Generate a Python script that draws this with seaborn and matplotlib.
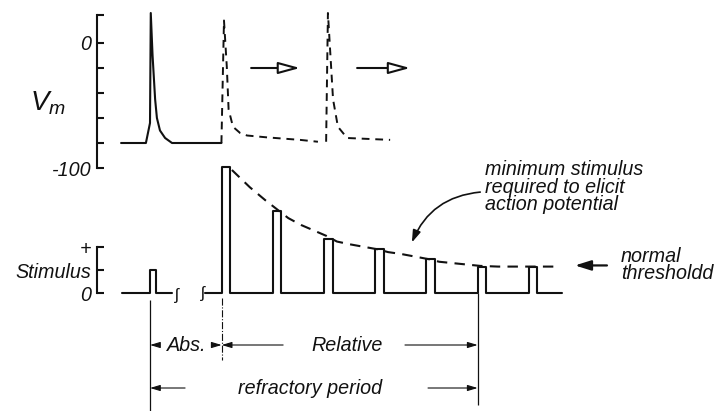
import numpy as np
import pandas as pd
import matplotlib
matplotlib.use("Agg")
import matplotlib.pyplot as plt
import seaborn as sns

# ---------------- data (time in ms, Vm in mV, stimulus in arbitrary units) ----------------
vm_ticks = [-100, -80, -60, -40, -20, 0, 22.4]
vm_ticklabels = ["-100", "", "", "", "", "0", ""]
stim_ticks = [0, 1, 2]
stim_ticklabels = ["0", "Stimulus", "+"]

# action potential after first (threshold) stimulus -- solid
spike1_t = [-1.13, -0.16, -0.06, 0.00, 0.03, 0.10, 0.20, 0.27, 0.39, 0.59, 0.86, 2.79]
spike1_v = [-80, -80, -70, -64, 24, -10, -45, -60, -70, -76, -80, -80]
# shifted action potentials -- dashed
spike2_t = [2.79, 2.89, 3.00, 3.07, 3.24, 3.52, 3.79, 4.57, 5.86, 6.56]
spike2_v = [-80, 18, -19, -53, -67, -72, -74, -75.5, -77.5, -79]
spike3_t = [6.88, 6.95, 7.15, 7.34, 7.70, 9.38]
spike3_v = [-79, 24, -45, -67, -76, -77.5]

# stimulus pulses
first_stim_t = [0.0]
first_stim_h = [1.0]
pulse_times = [2.8, 4.8, 6.8, 8.8, 10.8, 12.8, 14.8]
pulse_heights = [5.5, 3.57, 2.35, 1.9, 1.48, 1.15, 1.15]

# minimum stimulus required to elicit an action potential (dashed curve)
thr_t = [3.2, 3.9, 4.5, 5.4, 5.9, 6.9, 7.3, 7.8, 8.9, 9.3, 9.8, 10.9, 11.3, 12.9, 13.6, 16.0]
thr_s = [5.35, 4.6, 4.04, 3.26, 2.96, 2.48, 2.24, 2.12, 1.9, 1.78, 1.7, 1.47, 1.36, 1.18, 1.15, 1.15]

# ---------------- style ----------------
sns.set_theme(style="white")
plt.rcParams['font.family'] = ['Liberation Sans', 'DejaVu Sans']
plt.rcParams['font.style'] = 'italic'
plt.rcParams['mathtext.fontset'] = 'custom'
plt.rcParams['mathtext.it'] = 'Liberation Sans:italic'
plt.rcParams['mathtext.rm'] = 'Liberation Sans:italic'
FS = 14.2
INK = '#111111'

W, H = 721, 411
fig = plt.figure(figsize=(W / 100, H / 100), dpi=100)
fig.patch.set_facecolor('white')
px_per_ms = 25.6
t0_px = 150
spine_px = 97
xlim = ((spine_px - t0_px) / px_per_ms, (W - t0_px) / px_per_ms)


def ax_rect(top_px, bottom_px):
    return [spine_px / W, 1 - bottom_px / H, (W - spine_px) / W, (bottom_px - top_px) / H]


ax_v = fig.add_axes(ax_rect(5, 168))
ax_s = fig.add_axes(ax_rect(150, 411))
for ax in (ax_v, ax_s):
    ax.patch.set_alpha(0)
    for s in ('top', 'right', 'bottom'):
        ax.spines[s].set_visible(False)
    ax.spines['left'].set_linewidth(1.5)
    ax.spines['left'].set_color(INK)
    ax.set_xlim(*xlim)
    ax.set_xticks([])
    ax.set_xlabel('')
    ax.set_ylabel('')
    ax.tick_params(axis='y', direction='in', length=5, width=1.5, color=INK,
                   labelsize=FS, pad=4, labelcolor=INK, left=True)

# ---------------- membrane potential ----------------
ax_v.set_ylim(-100, 22.4 + 10 * 0.8)
ax_v.spines['left'].set_bounds(-100, 22.4)
ax_v.set_yticks(vm_ticks)
ax_v.set_yticklabels(vm_ticklabels)

sns.lineplot(x=spike1_t, y=spike1_v, sort=False, estimator=None, color=INK, lw=1.5, ax=ax_v)
sns.lineplot(x=spike2_t, y=spike2_v, sort=False, estimator=None, color=INK, lw=1.4,
             linestyle=(0, (4, 3)), ax=ax_v)
sns.lineplot(x=spike3_t, y=spike3_v, sort=False, estimator=None, color=INK, lw=1.4,
             linestyle=(0, (4, 3)), ax=ax_v)

open_head = dict(arrowstyle="-|>,head_length=1.1,head_width=0.3", fc='white', ec=INK, lw=1.5,
                 shrinkA=0, shrinkB=0)
ax_v.annotate("", xy=(5.86, -20), xytext=(3.95, -20), arrowprops=open_head)
ax_v.annotate("", xy=(10.16, -20), xytext=(8.09, -20), arrowprops=open_head)

fig.text(48 / W, 1 - 103 / H, "$V_m$", fontsize=20, ha='center', va='center', color=INK)

# ---------------- stimulus ----------------
ax_s.set_ylim(-5.13, 6.22)
ax_s.spines['left'].set_bounds(0, 2)
ax_s.set_yticks(stim_ticks)
ax_s.set_yticklabels(stim_ticklabels)


def pulse_train(start, end, times, heights, width):
    xs, ys = [start], [0]
    for t, h in zip(times, heights):
        xs += [t, t, t + width, t + width]
        ys += [0, h, h, 0]
    xs.append(end)
    ys.append(0)
    return xs, ys


x1, y1 = pulse_train(-1.1, 0.86, first_stim_t, first_stim_h, 0.25)
x2, y2 = pulse_train(2.15, 16.1, pulse_times, pulse_heights, 0.33)
sns.lineplot(x=x1, y=y1, sort=False, estimator=None, color=INK, lw=1.5, ax=ax_s)
sns.lineplot(x=x2, y=y2, sort=False, estimator=None, color=INK, lw=1.5, ax=ax_s)
sns.lineplot(x=thr_t, y=thr_s, sort=False, estimator=None, color=INK, lw=1.5,
             linestyle=(0, (5, 3.5)), ax=ax_s)

# axis-break squiggles
ax_s.text(1.05, -0.12, "ʃ", fontsize=12, ha='center', va='center', color=INK, style='normal')
ax_s.text(2.08, 0.0, "ʃ", fontsize=12, ha='center', va='center', color=INK, style='normal')

# annotations
ax_s.text(13.1, 4.6, "minimum stimulus\nrequired to elicit\naction potential", fontsize=FS,
          ha='left', va='center', linespacing=0.9, color=INK)
ax_s.annotate("", xy=(10.23, 2.2), xytext=(12.9, 4.39),
              arrowprops=dict(arrowstyle="-|>,head_length=0.6,head_width=0.2", color=INK, lw=1.2,
                              connectionstyle="arc3,rad=0.3", shrinkA=0, shrinkB=0))
ax_s.text(18.4, 1.22, "normal\nthresholdd", fontsize=FS, ha='left', va='center',
          linespacing=0.9, color=INK)
ax_s.annotate("", xy=(16.6, 1.2), xytext=(17.85, 1.2),
              arrowprops=dict(arrowstyle="-|>,head_length=0.8,head_width=0.25", color=INK, lw=1.6,
                              shrinkA=0, shrinkB=0))

# refractory period markers
abs_start = first_stim_t[0]
abs_end = pulse_times[0]
rel_end = pulse_times[5]
ax_s.vlines(abs_start, -0.3, -5.13, color=INK, lw=0.9)
ax_s.vlines(abs_end, -0.2, -2.9, color=INK, lw=0.8, linestyles='-.')
ax_s.vlines(rel_end, 0.0, -4.87, color=INK, lw=0.9)

thin = dict(arrowstyle="-|>,head_length=0.5,head_width=0.15", color=INK, lw=0.8,
            shrinkA=0, shrinkB=0)
row1, row2 = -2.26, -4.13
ax_s.annotate("", xy=(abs_start, row1), xytext=(abs_start + 0.27, row1), arrowprops=thin)
ax_s.text(1.45, row1, "Abs.", fontsize=FS, ha='center', va='center', color=INK)
ax_s.annotate("", xy=(abs_end, row1), xytext=(abs_end - 0.34, row1), arrowprops=thin)
ax_s.annotate("", xy=(abs_end, row1), xytext=(5.2, row1), arrowprops=thin)
ax_s.text(7.7, row1, "Relative", fontsize=FS, ha='center', va='center', color=INK)
ax_s.annotate("", xy=(rel_end, row1), xytext=(9.96, row1), arrowprops=thin)

ax_s.annotate("", xy=(abs_start, row2), xytext=(1.37, row2), arrowprops=thin)
ax_s.text(6.25, row2, "refractory period", fontsize=FS, ha='center', va='center', color=INK)
ax_s.annotate("", xy=(rel_end, row2), xytext=(10.86, row2), arrowprops=thin)

fig.savefig("out.png", dpi=100, facecolor='white')
